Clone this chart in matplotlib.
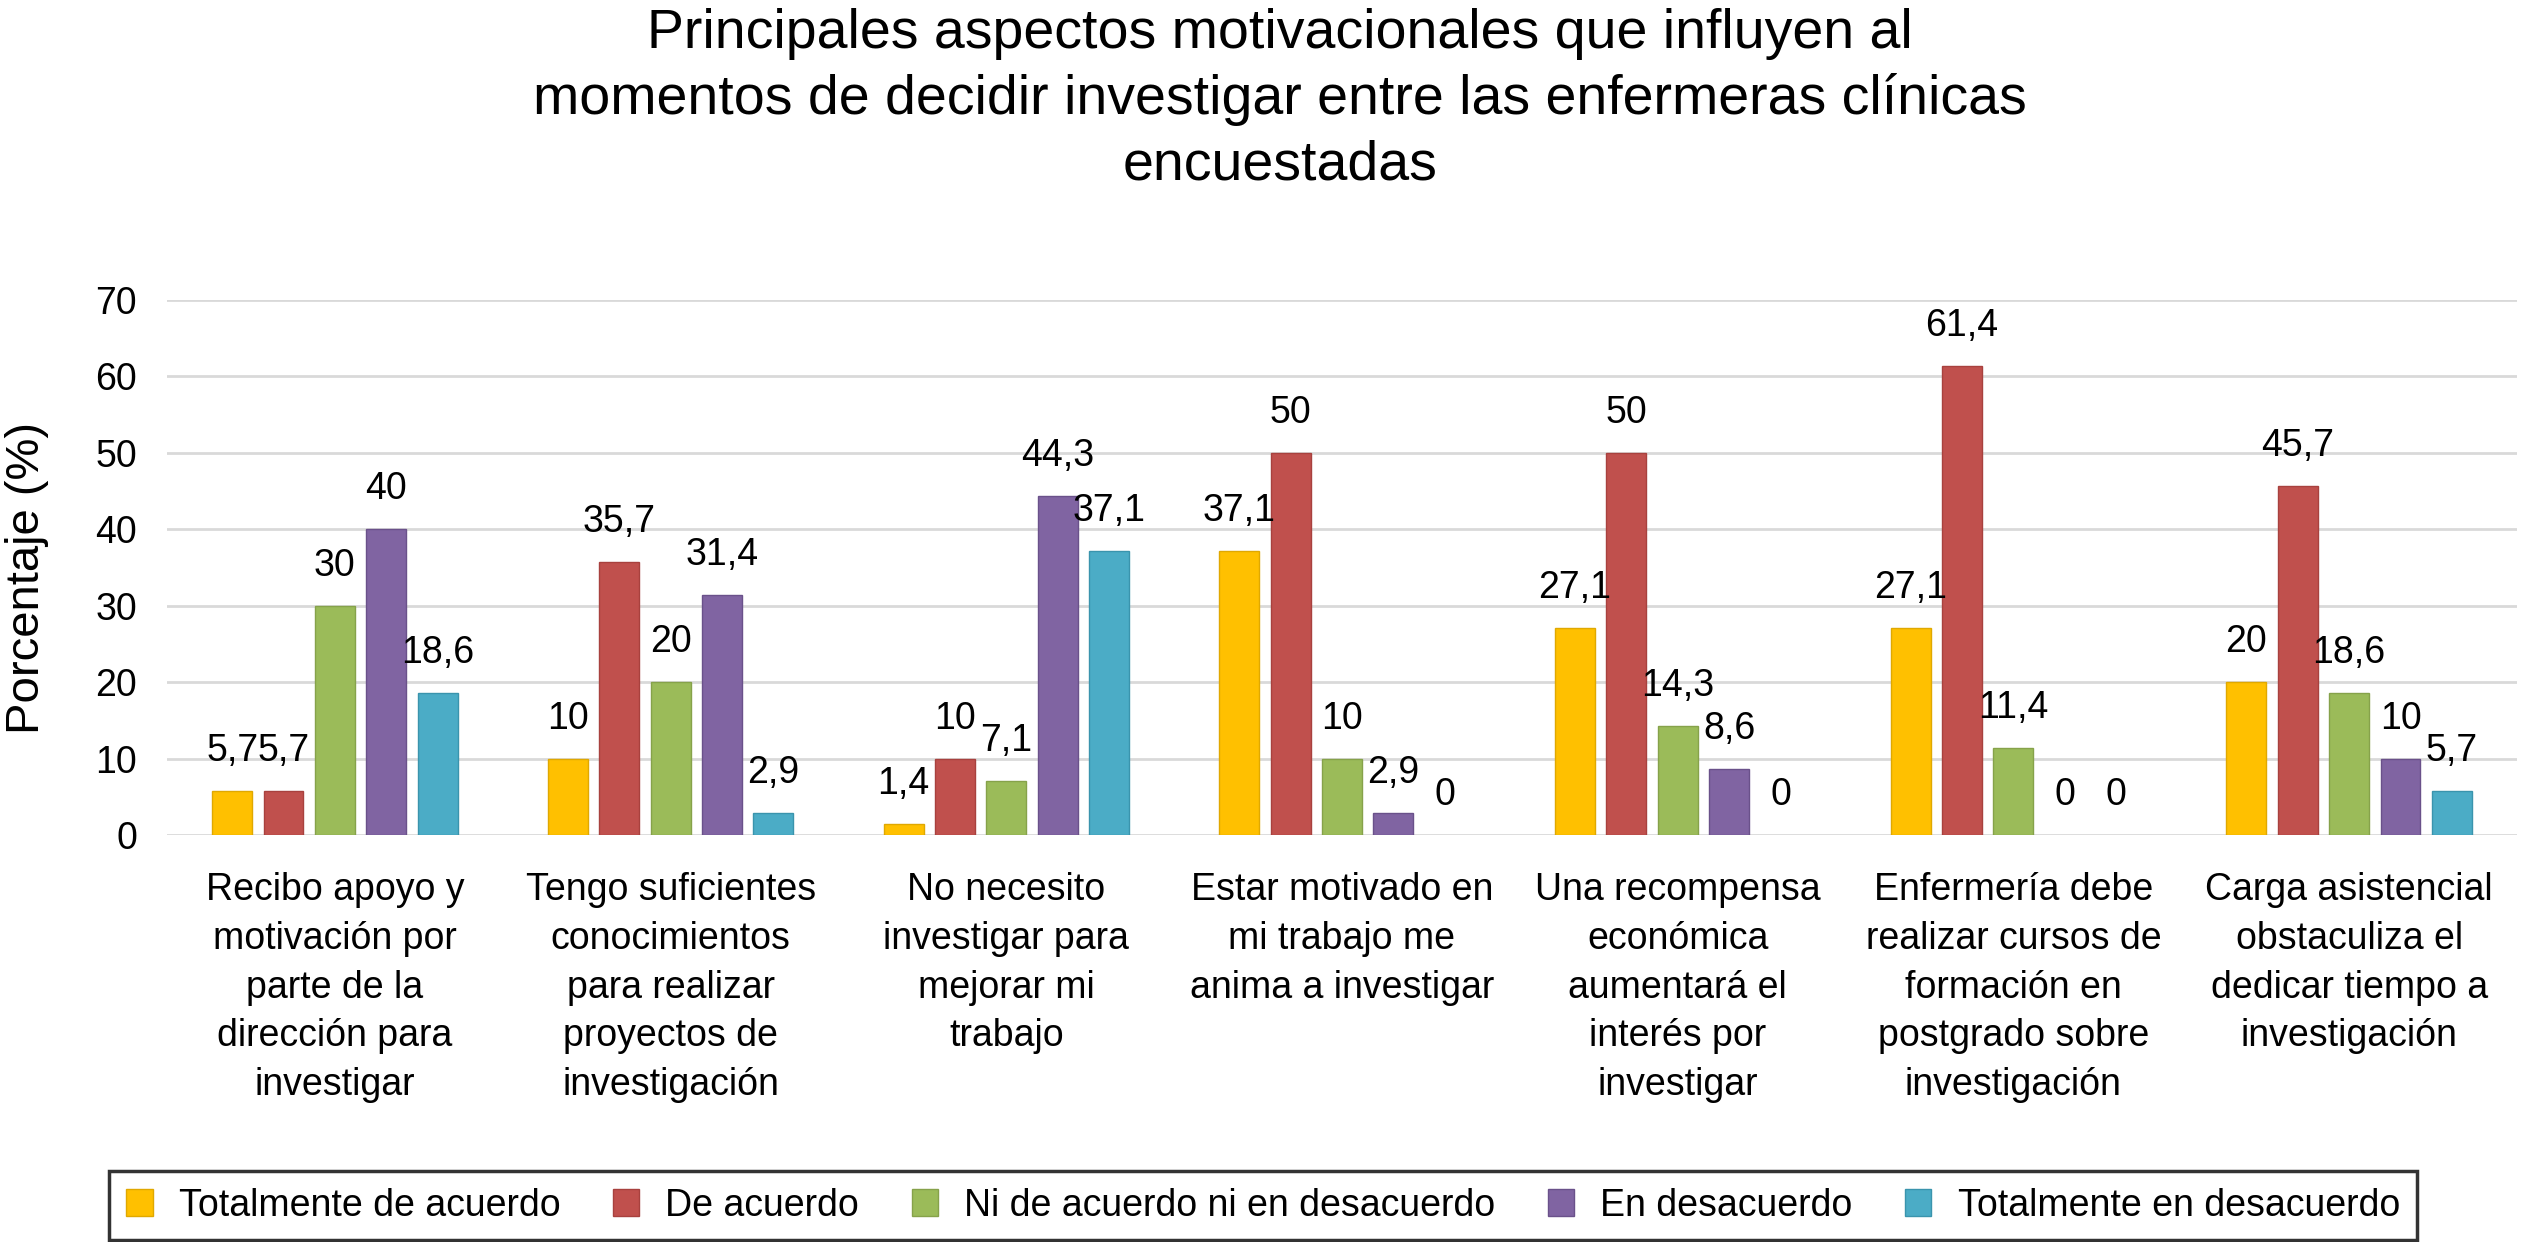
import matplotlib
matplotlib.use("Agg")
import matplotlib.pyplot as plt
import numpy as np

plt.rcParams['font.family'] = ['Liberation Sans', 'DejaVu Sans']

title_lines = ["Principales aspectos motivacionales que influyen al",
               "momentos de decidir investigar entre las enfermeras clínicas",
               "encuestadas"]

categories = [
    "Recibo apoyo y\nmotivación por\nparte de la\ndirección para\ninvestigar",
    "Tengo suficientes\nconocimientos\npara realizar\nproyectos de\ninvestigación",
    "No necesito\ninvestigar para\nmejorar mi\ntrabajo",
    "Estar motivado en\nmi trabajo me\nanima a investigar",
    "Una recompensa\neconómica\naumentará el\ninterés por\ninvestigar",
    "Enfermería debe\nrealizar cursos de\nformación en\npostgrado sobre\ninvestigación",
    "Carga asistencial\nobstaculiza el\ndedicar tiempo a\ninvestigación",
]

series_names = ["Totalmente de acuerdo", "De acuerdo", "Ni de acuerdo ni en desacuerdo",
                "En desacuerdo", "Totalmente en desacuerdo"]

totalmente_de_acuerdo = [5.7, 10, 1.4, 37.1, 27.1, 27.1, 20]
de_acuerdo = [5.7, 35.7, 10, 50, 50, 61.4, 45.7]
ni_de_acuerdo = [30, 20, 7.1, 10, 14.3, 11.4, 18.6]
en_desacuerdo = [40, 31.4, 44.3, 2.9, 8.6, 0, 10]
totalmente_en_desacuerdo = [18.6, 2.9, 37.1, 0, 0, 0, 5.7]

series = [totalmente_de_acuerdo, de_acuerdo, ni_de_acuerdo, en_desacuerdo, totalmente_en_desacuerdo]
colors = ["#FFC000", "#C0504D", "#9BBB59", "#8064A2", "#4BACC6"]
edges = ["#E0A800", "#A8413E", "#86A24A", "#6A518A", "#3A94AD"]

yticks = [0, 10, 20, 30, 40, 50, 60, 70]

W, H = 2521, 1242
fig = plt.figure(figsize=(W / 100, H / 100), dpi=100)
ax = fig.add_axes([167 / W, 1 - 835 / H, 2350 / W, 535 / H])

x = np.arange(len(categories))
pitch = 0.153
bw = 0.119
for j, (vals, c, ec, name) in enumerate(zip(series, colors, edges, series_names)):
    pos = x + (j - 2) * pitch
    lws = [1 if v > 0 else 0 for v in vals]
    ax.bar(pos, vals, width=bw, color=c, edgecolor=ec, linewidth=lws, label=name, zorder=3)
    for px, v in zip(pos, vals):
        lab = f"{v:g}".replace(".", ",")
        ax.annotate(lab, (px, v), xytext=(0, 21.6), textcoords="offset points",
                    ha="center", va="baseline", fontsize=27, color="black", zorder=4)

ax.set_xlim(-0.5, len(categories) - 0.5)
ax.set_ylim(0, 70)
ax.set_yticks(yticks)
ax.set_yticklabels([str(t) for t in yticks], fontsize=27)
ax.yaxis.grid(True, color="#d9d9d9", linewidth=2, zorder=0)
ax.set_axisbelow(True)
for s in ax.spines.values():
    s.set_visible(False)
ax.tick_params(axis="y", length=0, pad=21.6)
ax.tick_params(axis="x", length=0, pad=27)
ax.set_xticks(x)
ax.set_xticklabels(categories, fontsize=27, linespacing=1.45, va="top", ha="center")

for k, line in enumerate(title_lines):
    fig.text(1280 / W, 1 - (48 + 66 * k) / H, line, ha="center", va="baseline", fontsize=40)
fig.text(27 / W, 1 - 578 / H, "Porcentaje (%)", rotation=90, ha="center", va="center", fontsize=34)

leg = fig.legend(loc="center", bbox_to_anchor=(1263 / W, 1 - 1205.5 / H), ncol=5,
                 fontsize=27, frameon=True, fancybox=False, edgecolor="black",
                 handlelength=0.7, handleheight=0.7, handletextpad=0.7,
                 columnspacing=1.4, borderpad=0.45, borderaxespad=0)
leg.get_frame().set_linewidth(2.5)

fig.savefig("out.png", dpi=100)
